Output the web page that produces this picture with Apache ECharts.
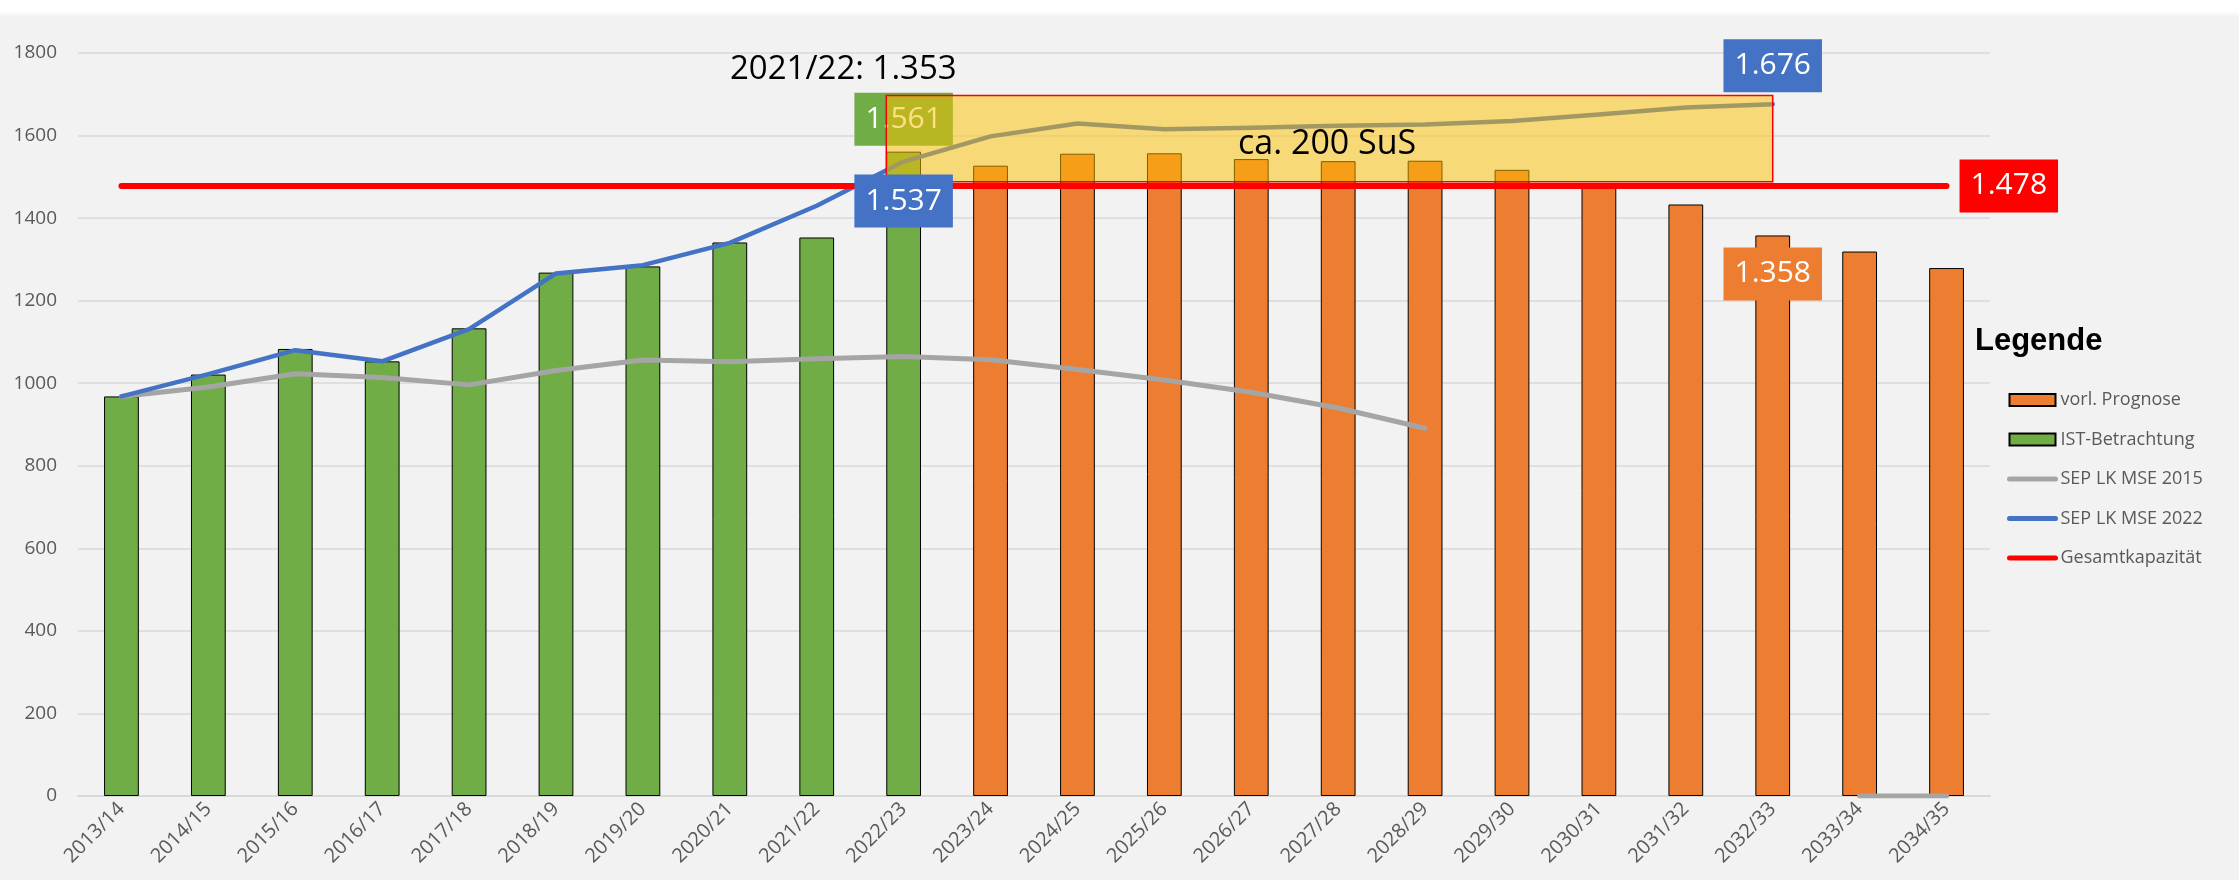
<!DOCTYPE html>
<html>
<head>
<meta charset="utf-8">
<title>Schülerzahlen</title>
<script src="https://cdn.jsdelivr.net/npm/echarts@6/dist/echarts.min.js"></script>
<style>
    html, body { margin: 0; padding: 0; background: #fff; }
    #main {
        width: 2239px;
        height: 880px;
        background: linear-gradient(#fff 0, #fff 11px, #F1F2F1 17px, #F1F2F1 100%);
    }
</style>
</head>
<body>
<div id="main"></div>
<script>
// Schuljahre
var years = ['2013/14', '2014/15', '2015/16', '2016/17', '2017/18', '2018/19', '2019/20', '2020/21', '2021/22', '2022/23',
    '2023/24', '2024/25', '2025/26', '2026/27', '2027/28', '2028/29', '2029/30', '2030/31', '2031/32', '2032/33', '2033/34', '2034/35'];

// IST-Betrachtung (gruen)
var istValues = [968, 1021, 1083, 1053, 1133, 1268, 1283, 1341, 1353, 1561,
    null, null, null, null, null, null, null, null, null, null, null, null];

// vorl. Prognose (orange)
var prognoseValues = [null, null, null, null, null, null, null, null, null, null,
    1527, 1556, 1557, 1543, 1538, 1539, 1517, 1480, 1433, 1358, 1319, 1279];

// SEP LK MSE 2015 (grau)
var sep2015 = [968, 991, 1023, 1014, 996, 1031, 1056, 1052, 1059, 1065,
    1057, 1033, 1008, 978, 940, 891, null, null, null, null, 0, 0];

// SEP LK MSE 2022 (blau)
var sep2022 = [968, 1022, 1080, 1053, 1131, 1266, 1286, 1340, 1430, 1537,
    1598, 1629, 1615, 1619, 1624, 1627, 1635, 1651, 1668, 1676, null, null];

// Gesamtkapazitaet
var kapazitaet = [1478, 1478, 1478, 1478, 1478, 1478, 1478, 1478, 1478, 1478, 1478,
    1478, 1478, 1478, 1478, 1478, 1478, 1478, 1478, 1478, 1478, 1478];

// Bereich "ca. 200 SuS": von Jahr-Index bis Jahr-Index, von Wert bis Wert
var bandRange = [9, 19, 1488, 1697];

var yTicks = { min: 0, max: 1800, interval: 200 };

//Zahl im deutschen Format, 1561 -> 1.561
function fmt(v) {
    return (v / 1000).toFixed(3);
}

function boxLabel(color, position, distance) {
    return {
        show: true,
        position: position,
        distance: distance,
        formatter: function (p) {
            var v = Array.isArray(p.value) ? p.value[1] : p.value;
            return fmt(v);
        },
        backgroundColor: color,
        color: '#fff',
        fontFamily: 'Open Sans',
        fontSize: 30,
        lineHeight: 41,
        padding: [6, 11, 6, 11]
    };
}

function withLabel(values, index, label) {
    return values.map(function (v, i) {
        if (i === index) {
            return { value: v, label: label };
        }
        return v;
    });
}

function lineLegend(name, color) {
    return {
        name: name,
        itemStyle: { opacity: 0 },
        lineStyle: { color: color, width: 5, cap: 'round' }
    };
}

// Beschriftungen der Linienpunkte
var pointLabels = [
    { value: [years[9], sep2022[9]], label: boxLabel('#4472C4', 'bottom', 13) },
    { value: [years[19], sep2022[19]], label: boxLabel('#4472C4', 'top', 12) },
    { value: [years[21], kapazitaet[21]], label: boxLabel('#FF0000', 'right', 13) }
];

var chart = echarts.init(document.getElementById('main'), null, { renderer: 'canvas' });

chart.setOption({
    animation: false,
    backgroundColor: 'transparent',
    textStyle: { fontFamily: 'Open Sans' },
    title: {
        text: 'Legende',
        left: 1975,
        top: 326,
        padding: 0,
        textStyle: {
            fontFamily: 'Liberation Sans',
            fontWeight: 'bold',
            fontSize: 31,
            color: '#000'
        }
    },
    legend: {
        orient: 'vertical',
        left: 2007,
        top: 390,
        padding: 0,
        itemWidth: 46,
        itemHeight: 12,
        itemGap: 19.5,
        textStyle: {
            fontFamily: 'Open Sans',
            fontSize: 18,
            lineHeight: 20,
            color: '#595959'
        },
        data: [
            { name: 'vorl. Prognose', icon: 'rect' },
            { name: 'IST-Betrachtung', icon: 'rect' },
            lineLegend('SEP LK MSE 2015', '#A5A5A5'),
            lineLegend('SEP LK MSE 2022', '#4472C4'),
            lineLegend('Gesamtkapazität', '#FF0000')
        ]
    },
    grid: {
        left: 78,
        right: 249,
        top: 53,
        bottom: 84
    },
    xAxis: {
        type: 'category',
        data: years,
        axisTick: { show: false },
        axisLine: {
            lineStyle: { color: '#D9D9D9', width: 2 }
        },
        axisLabel: {
            interval: 0,
            rotate: 45,
            margin: 10,
            fontSize: 20,
            color: '#595959'
        }
    },
    yAxis: {
        type: 'value',
        min: yTicks.min,
        max: yTicks.max,
        interval: yTicks.interval,
        axisLine: { show: false },
        axisTick: { show: false },
        axisLabel: {
            margin: 21,
            fontSize: 19,
            color: '#595959',
            formatter: function (v) { return String(v); }
        },
        splitLine: {
            lineStyle: { color: '#D9D9D9', width: 1.5 }
        }
    },
    graphic: [{
        type: 'text',
        left: 730,
        top: 53,
        style: {
            text: '2021/22: 1.353',
            fontFamily: 'Open Sans',
            fontSize: 33,
            fill: '#000'
        }
    }, {
        type: 'text',
        left: 1238,
        top: 127,
        z: 10,
        style: {
            text: 'ca. 200 SuS',
            fontFamily: 'Open Sans',
            fontSize: 34,
            fill: '#000'
        }
    }],
    series: [{
        name: 'IST-Betrachtung',
        type: 'bar',
        barWidth: '40%',
        barGap: '-100%',
        z: 2,
        itemStyle: { color: '#70AD47', borderColor: '#000', borderWidth: 1 },
        data: withLabel(istValues, 9, boxLabel('#70AD47', 'top', 6))
    }, {
        name: 'vorl. Prognose',
        type: 'bar',
        barWidth: '40%',
        barGap: '-100%',
        z: 2,
        itemStyle: { color: '#ED7D31', borderColor: '#000', borderWidth: 1 },
        data: withLabel(prognoseValues, 19, boxLabel('#ED7D31', 'insideTop', 12))
    }, {
        name: 'SEP LK MSE 2015',
        type: 'line',
        symbol: 'none',
        z: 2,
        lineStyle: { color: '#A5A5A5', width: 5, cap: 'round', join: 'round' },
        itemStyle: { color: '#A5A5A5' },
        data: sep2015
    }, {
        name: 'SEP LK MSE 2022',
        type: 'line',
        symbol: 'none',
        z: 2,
        lineStyle: { color: '#4472C4', width: 4.5, cap: 'round', join: 'round' },
        itemStyle: { color: '#4472C4' },
        data: sep2022
    }, {
        // gelber Bereich ueber den Linien
        name: 'Bereich',
        type: 'custom',
        z: 3,
        silent: true,
        encode: { x: [0, 1], y: [2, 3] },
        renderItem: function (params, api) {
            var band = api.size([1, 0])[0];
            var p1 = api.coord([api.value(0), api.value(3)]);
            var p2 = api.coord([api.value(1), api.value(2)]);
            var x1 = p1[0] - band * 0.2;
            return {
                type: 'rect',
                shape: { x: x1, y: p1[1], width: p2[0] - x1, height: p2[1] - p1[1] },
                style: { fill: 'rgba(255,192,0,0.5)', stroke: '#FF0000', lineWidth: 1.5 }
            };
        },
        data: [bandRange]
    }, {
        name: 'Gesamtkapazität',
        type: 'line',
        symbol: 'none',
        z: 4,
        lineStyle: { color: '#FF0000', width: 6, cap: 'round' },
        itemStyle: { color: '#FF0000' },
        data: kapazitaet
    }, {
        // Beschriftungen ueber allem
        name: 'Werte',
        type: 'scatter',
        symbolSize: 0,
        z: 5,
        silent: true,
        itemStyle: { opacity: 1 },
        data: pointLabels
    }]
});

window.addEventListener('resize', function () {
    chart.resize();
});
</script>
</body>
</html>
